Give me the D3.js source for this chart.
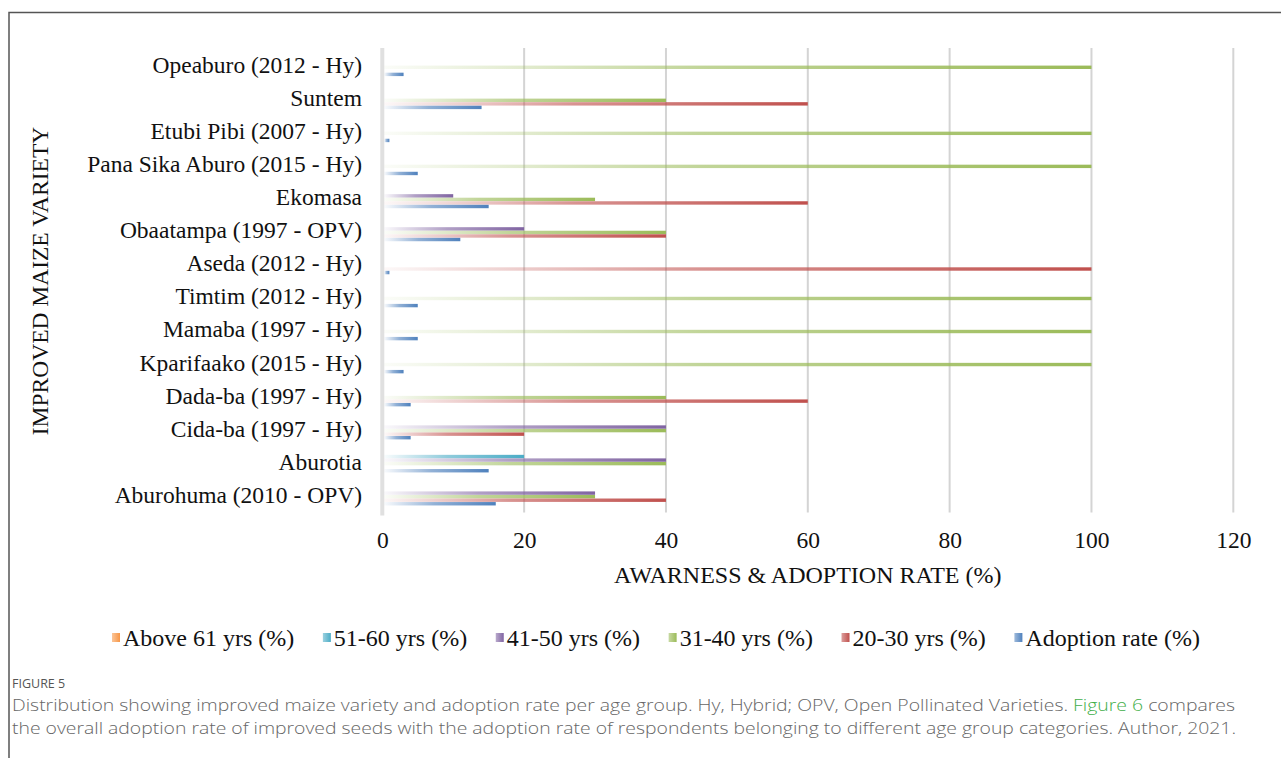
<!DOCTYPE html>
<html>
<head>
<meta charset="utf-8">
<script src="https://cdn.jsdelivr.net/npm/d3@7"></script>
<style>
  html, body { margin: 0; padding: 0; background: #fff; }
  svg { display: block; }
</style>
</head>
<body>
<svg id="chart" width="1281" height="758"></svg>
<script>
// Maize varieties, listed top to bottom
const categories = [
  "Opeaburo (2012 - Hy)", "Suntem", "Etubi Pibi (2007 - Hy)", "Pana Sika Aburo (2015 - Hy)",
  "Ekomasa", "Obaatampa (1997 - OPV)", "Aseda (2012 - Hy)", "Timtim (2012 - Hy)",
  "Mamaba (1997 - Hy)", "Kparifaako (2015 - Hy)", "Dada-ba (1997 - Hy)", "Cida-ba (1997 - Hy)",
  "Aburotia", "Aburohuma (2010 - OPV)"
];

// Awareness per age group (%) and adoption rate (%)
const above61  = [0, 0, 0, 0, 0, 0, 0, 0, 0, 0, 0, 0, 0, 0];
const age51_60 = [0, 0, 0, 0, 0, 0, 0, 0, 0, 0, 0, 0, 20, 0];
const age41_50 = [0, 0, 0, 0, 10, 20, 0, 0, 0, 0, 0, 40, 40, 30];
const age31_40 = [100, 40, 100, 100, 30, 40, 0, 100, 100, 100, 40, 40, 40, 30];
const age20_30 = [0, 60, 0, 0, 60, 40, 100, 0, 0, 0, 60, 20, 0, 40];
const adoption = [3, 14, 1, 5, 15, 11, 1, 5, 5, 3, 4, 4, 15, 16];

const seriesNames = ["Above 61 yrs (%)", "51-60 yrs (%)", "41-50 yrs (%)", "31-40 yrs (%)", "20-30 yrs (%)", "Adoption rate (%)"];
const seriesValues = [above61, age51_60, age41_50, age31_40, age20_30, adoption];
const seriesColors = ["#f79646", "#4bacc6", "#8064a2", "#9bbb59", "#c0504d", "#4f81bd"];

const xTicks = [0, 20, 40, 60, 80, 100, 120];

const svg = d3.select("#chart");
const serif = "'Liberation Serif', 'Times New Roman', serif";
const sans = "'Open Sans', 'Noto Sans', sans-serif";

// Frame around the figure
svg.append("path")
  .attr("d", "M9,758 V12.5 H1281")
  .attr("fill", "none").attr("stroke", "#555").attr("stroke-width", 1.5);

// Gradient fills: bars fade in from the left; legend keys are more solid
const defs = svg.append("defs");
seriesColors.forEach((c, i) => {
  const g = defs.append("linearGradient").attr("id", "grad" + i)
    .attr("x1", 0).attr("x2", 1).attr("y1", 0).attr("y2", 0);
  g.append("stop").attr("offset", 0).attr("stop-color", c).attr("stop-opacity", 0.04);
  g.append("stop").attr("offset", 0.45).attr("stop-color", c).attr("stop-opacity", 0.62);
  g.append("stop").attr("offset", 1).attr("stop-color", c).attr("stop-opacity", 1);
  const k = defs.append("linearGradient").attr("id", "key" + i)
    .attr("x1", 0).attr("x2", 1).attr("y1", 0).attr("y2", 0);
  k.append("stop").attr("offset", 0).attr("stop-color", c).attr("stop-opacity", 0.55);
  k.append("stop").attr("offset", 1).attr("stop-color", c).attr("stop-opacity", 1);
});

const plotTop = 49, plotBottom = 511.4;
const x = d3.scaleLinear().domain([0, 120]).range([382.3, 1233.3]);
const y = d3.scaleBand().domain(categories).range([plotTop, plotBottom]);
const step = 3.55;
const inner = d3.scaleBand().domain(d3.range(seriesNames.length)).range([0, step * seriesNames.length]);

// Vertical gridlines
svg.append("g").selectAll("line")
  .data(xTicks.filter(t => t > 0))
  .join("line")
  .attr("x1", d => x(d)).attr("x2", d => x(d))
  .attr("y1", plotTop - 1).attr("y2", plotBottom + 1)
  .attr("stroke", "#d4d4d4").attr("stroke-width", 2);

// Category axis line
svg.append("line")
  .attr("x1", x(0)).attr("x2", x(0))
  .attr("y1", plotTop - 1).attr("y2", plotBottom + 4)
  .attr("stroke", "#e0e0e0").attr("stroke-width", 4);

// Bars
const rows = [];
categories.forEach((cat, ci) => {
  seriesValues.forEach((vals, si) => {
    if (vals[ci] > 0) rows.push({ cat, si, v: vals[ci] });
  });
});
svg.append("g").selectAll("rect")
  .data(rows)
  .join("rect")
  .attr("x", x(0) + 2)
  .attr("y", d => y(d.cat) + y.bandwidth() / 2 - step * 3 + inner(d.si) + (step - 3.4) / 2)
  .attr("width", d => x(d.v) - x(0) - 2)
  .attr("height", 3.4)
  .attr("fill", d => `url(#grad${d.si})`);

// Category labels
svg.append("g").selectAll("text")
  .data(categories)
  .join("text")
  .attr("x", 362)
  .attr("y", d => y(d) + y.bandwidth() / 2)
  .attr("dy", "0.33em")
  .attr("text-anchor", "end")
  .attr("font-family", serif).attr("font-size", 23.5).attr("fill", "#111")
  .text(d => d);

// Value axis tick labels
const xAxis = d3.axisBottom(x).tickValues(xTicks).tickSize(0).tickPadding(0);
const xg = svg.append("g").attr("transform", "translate(0,531)").call(xAxis);
xg.select(".domain").remove();
xg.selectAll("text")
  .attr("font-family", serif).attr("font-size", 23.5).attr("fill", "#111")
  .attr("dy", "0.72em");

// Axis titles
svg.append("text")
  .attr("x", (x(0) + x(120)) / 2).attr("y", 583)
  .attr("text-anchor", "middle")
  .attr("font-family", serif).attr("font-size", 24).attr("fill", "#111")
  .text("AWARNESS & ADOPTION RATE (%)");

svg.append("text")
  .attr("transform", "translate(48,281) rotate(-90)")
  .attr("text-anchor", "middle")
  .attr("font-family", serif).attr("font-size", 23.5).attr("fill", "#111")
  .text("IMPROVED MAIZE VARIETY");

// Legend: entries spread evenly between the two ends of the row
const legendLeft = 112, legendRight = 1200, keySize = 8, keyGap = 3;
const legend = svg.append("g").selectAll("g")
  .data(seriesNames)
  .join("g");
legend.append("rect")
  .attr("x", 0).attr("y", -5).attr("width", keySize).attr("height", 9)
  .attr("fill", (d, i) => `url(#key${i})`);
legend.append("text")
  .attr("x", keySize + keyGap).attr("y", 8)
  .attr("font-family", serif).attr("font-size", 24).attr("fill", "#111")
  .text(d => d);
const itemWidths = [];
legend.each(function () { itemWidths.push(keySize + keyGap + d3.select(this).select("text").node().getComputedTextLength()); });
const legendGap = (legendRight - legendLeft - d3.sum(itemWidths)) / (itemWidths.length - 1);
let lx = legendLeft;
legend.each(function (d, i) {
  d3.select(this).attr("transform", `translate(${lx},638)`);
  lx += itemWidths[i] + legendGap;
});

// Caption
svg.append("text")
  .attr("x", 12).attr("y", 688)
  .attr("font-family", sans).attr("font-size", 12.5).attr("fill", "#555")
  .text("FIGURE 5");

const cap1 = svg.append("text")
  .attr("x", 12).attr("y", 711)
  .attr("font-family", sans).attr("font-size", 16.5).attr("font-weight", 300).attr("fill", "#666");
cap1.append("tspan").text("Distribution showing improved maize variety and adoption rate per age group. Hy, Hybrid; OPV, Open Pollinated Varieties. ");
cap1.append("tspan").attr("fill", "#3fae49").text("Figure 6");
cap1.append("tspan").text(" compares");
cap1.attr("textLength", 1223).attr("lengthAdjust", "spacingAndGlyphs");

svg.append("text")
  .attr("x", 12).attr("y", 734)
  .attr("font-family", sans).attr("font-size", 16.5).attr("font-weight", 300).attr("fill", "#666")
  .attr("textLength", 1224).attr("lengthAdjust", "spacingAndGlyphs")
  .text("the overall adoption rate of improved seeds with the adoption rate of respondents belonging to different age group categories. Author, 2021.");
</script>
</body>
</html>
